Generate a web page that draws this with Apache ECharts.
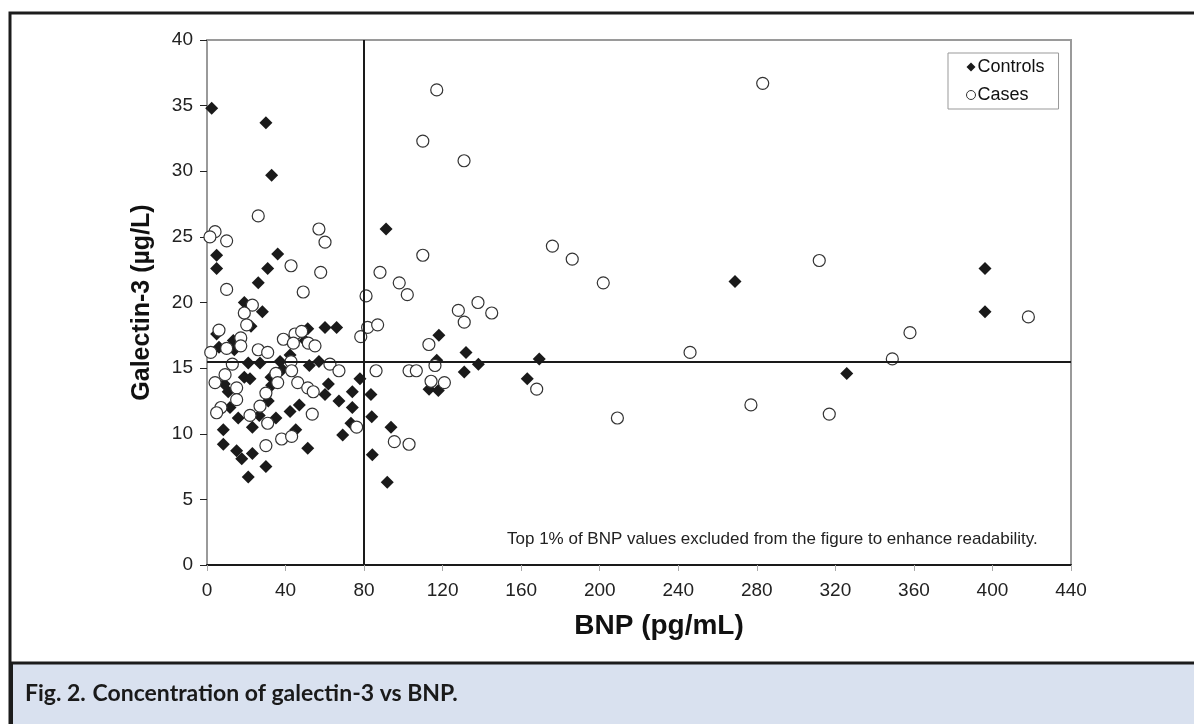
<!DOCTYPE html>
<html>
<head>
<meta charset="utf-8">
<script src="https://cdn.jsdelivr.net/npm/echarts@6/dist/echarts.min.js"></script>
<style>
  html, body { margin: 0; padding: 0; background: #fff; }
  #chart { width: 1194px; height: 724px; }
</style>
</head>
<body>
<div id="chart"></div>
<script>
// [BNP pg/mL, galectin-3 ug/L]
const controls = [
  [2.4, 34.8], [30, 33.7], [32.9, 29.7], [91.2, 25.6], [4.9, 23.6], [36, 23.7], [4.9, 22.6], [30.9, 22.6],
  [26.1, 21.5], [19, 20.0], [28.2, 19.3], [22.4, 18.2], [60.1, 18.1], [66, 18.1], [4.9, 17.6], [13.4, 17.1],
  [51.3, 18.0], [49.9, 17.1], [6.1, 16.6], [13.9, 16.4], [42.3, 16.0], [37.2, 15.5], [38.4, 14.9], [21, 15.4],
  [27, 15.4], [52.1, 15.2], [57, 15.5], [19, 14.3], [21.9, 14.2], [32.6, 14.3], [32.9, 13.7], [8.8, 13.8],
  [10.8, 13.2], [11.7, 12.0], [31.2, 12.5], [26.6, 11.4], [61.8, 13.8], [60.1, 13.0], [67.2, 12.5], [74, 13.2],
  [77.9, 14.2], [83.5, 13.0], [74, 12.0], [47, 12.2], [42.3, 11.7], [35.1, 11.2], [23.1, 10.5], [15.9, 11.2],
  [83.9, 11.3], [73.3, 10.8], [69.1, 9.9], [8.3, 10.3], [8.3, 9.2], [15.1, 8.7], [17.7, 8.1], [23.1, 8.5],
  [30, 7.5], [21, 6.7], [45.2, 10.3], [51.3, 8.9], [93.7, 10.5], [84.2, 8.4], [91.8, 6.3], [118.1, 17.5],
  [131.9, 16.2], [138.2, 15.3], [117, 15.6], [169.2, 15.7], [131, 14.7], [163.1, 14.2], [113.1, 13.4], [117.8, 13.3],
  [268.9, 21.6], [325.8, 14.6], [396.2, 22.6], [396.2, 19.3]
];

const cases = [
  [26.1, 26.6], [4.1, 25.4], [1.5, 25.0], [10, 24.7], [57, 25.6], [60.1, 24.6], [88.1, 22.3], [42.8, 22.8],
  [57.9, 22.3], [10, 21.0], [49, 20.8], [81, 20.5], [23.1, 19.8], [19, 19.2], [20.2, 18.3], [81.8, 18.1],
  [86.9, 18.3], [78.3, 17.4], [6.1, 17.9], [17.2, 17.3], [38.9, 17.2], [44.8, 17.6], [48.2, 17.8], [44, 16.9],
  [51.6, 16.9], [55, 16.7], [17.2, 16.7], [1.9, 16.2], [10, 16.5], [26.1, 16.4], [30.9, 16.2], [42.8, 15.5],
  [43.1, 14.8], [12.9, 15.3], [62.6, 15.3], [67.2, 14.8], [9.2, 14.5], [4.1, 13.9], [35.1, 14.6], [36, 13.9],
  [15.1, 13.5], [15.1, 12.6], [7.1, 12.0], [4.9, 11.6], [30, 13.1], [27, 12.1], [21.9, 11.4], [46.2, 13.9],
  [51.3, 13.5], [54.1, 13.2], [86.1, 14.8], [53.6, 11.5], [76.2, 10.5], [30.9, 10.8], [30, 9.1], [38, 9.6],
  [43.1, 9.8], [95.4, 9.4], [102.9, 9.2], [109.9, 23.6], [117, 36.2], [109.9, 32.3], [130.9, 30.8], [97.9, 21.5],
  [102, 20.6], [128, 19.4], [138, 20.0], [145, 19.2], [131, 18.5], [113, 16.8], [116.1, 15.2], [102.9, 14.8],
  [106.6, 14.8], [167.9, 13.4], [114.1, 14.0], [120.9, 13.9], [175.9, 24.3], [186, 23.3], [201.8, 21.5], [283, 36.7],
  [311.8, 23.2], [209, 11.2], [246, 16.2], [277, 12.2], [316.9, 11.5], [349, 15.7], [358, 17.7], [418.3, 18.9]
];

const cutoffBNP = 80;
const cutoffGal = 15.5;

const chart = echarts.init(document.getElementById('chart'));

chart.setOption({
  animation: false,
  textStyle: { fontFamily: 'Arial, "Liberation Sans", sans-serif' },
  grid: {
    left: 207, top: 40, width: 864, height: 525,
    show: true, borderColor: '#9a9a9a', borderWidth: 2
  },
  legend: {
    orient: 'vertical',
    left: 948, top: 53,
    borderColor: '#999', borderWidth: 1,
    backgroundColor: '#fff',
    padding: [4, 14, 4, 18],
    itemGap: 8,
    itemWidth: 9, itemHeight: 9,
    textStyle: { fontSize: 18, color: '#111', lineHeight: 20, padding: [0, 0, 0, -3] },
    data: [
      { name: 'Controls', icon: 'diamond', itemStyle: { color: '#1a1a1a', borderWidth: 0 } },
      { name: 'Cases', icon: 'circle', itemStyle: { color: '#fff', borderColor: '#333', borderWidth: 1 } }
    ]
  },
  xAxis: {
    type: 'value', min: 0, max: 440, interval: 40,
    name: 'BNP (pg/mL)', nameLocation: 'middle', nameGap: 47,
    nameTextStyle: { fontSize: 28, fontWeight: 'bold', color: '#111', padding: [0, 0, 0, 40] },
    axisLine: { show: true, onZero: false, lineStyle: { color: '#1a1a1a', width: 2 } },
    axisTick: { show: true, length: 6, lineStyle: { color: '#aaa' } },
    axisLabel: { fontSize: 19, color: '#222', margin: 16 },
    splitLine: { show: false }
  },
  yAxis: {
    type: 'value', min: 0, max: 40, interval: 5,
    name: 'Galectin-3 (\u00b5g/L)', nameLocation: 'middle', nameGap: 52,
    nameTextStyle: { fontSize: 25, fontWeight: 'bold', color: '#111' },
    axisLine: { show: true, onZero: false, lineStyle: { color: '#9a9a9a', width: 2 } },
    axisTick: { show: true, length: 7, lineStyle: { color: '#222' } },
    axisLabel: { fontSize: 19, color: '#222', margin: 14 },
    splitLine: { show: false }
  },
  series: [
    {
      name: 'Controls', type: 'scatter', data: controls,
      symbol: 'diamond', symbolSize: 13,
      itemStyle: { color: '#1a1a1a', opacity: 1 },
      markLine: {
        silent: true, symbol: 'none', animation: false,
        label: { show: false },
        lineStyle: { color: '#1a1a1a', width: 2, type: 'solid' },
        data: [{ xAxis: cutoffBNP }, { yAxis: cutoffGal }]
      }
    },
    {
      name: 'Cases', type: 'scatter', data: cases,
      symbol: 'circle', symbolSize: 12,
      itemStyle: { color: '#fff', borderColor: '#333', borderWidth: 1.2, opacity: 1 }
    }
  ],
  graphic: [
    {
      type: 'rect', z: -10, silent: true,
      shape: { x: 10, y: 13, width: 1200, height: 720 },
      style: { fill: '#fff', stroke: '#1c1c1c', lineWidth: 3 }
    },
    {
      type: 'rect', z: -9, silent: true,
      shape: { x: 11.5, y: 663, width: 1190, height: 70 },
      style: { fill: '#d9e1ef', stroke: '#1c1c1c', lineWidth: 3 }
    },
    {
      type: 'text', silent: true, left: 507, top: 531,
      style: {
        text: 'Top 1% of BNP values excluded from the figure to enhance readability.',
        fontSize: 17, fill: '#222', fontFamily: 'Arial, "Liberation Sans", sans-serif'
      }
    },
    {
      type: 'text', silent: true, left: 25, top: 682,
      style: {
        rich: {
          a: { fontSize: 23, fontWeight: 'bold', fill: '#1a1a1a', fontFamily: 'Lato' },
          b: { fontSize: 23, fontWeight: 'bold', fill: '#1a1a1a', fontFamily: 'Lato' }
        },
        text: '{a|Fig. 2.}  {b|Concentration of galectin-3 vs BNP.}'
      }
    }
  ]
});
</script>
</body>
</html>
